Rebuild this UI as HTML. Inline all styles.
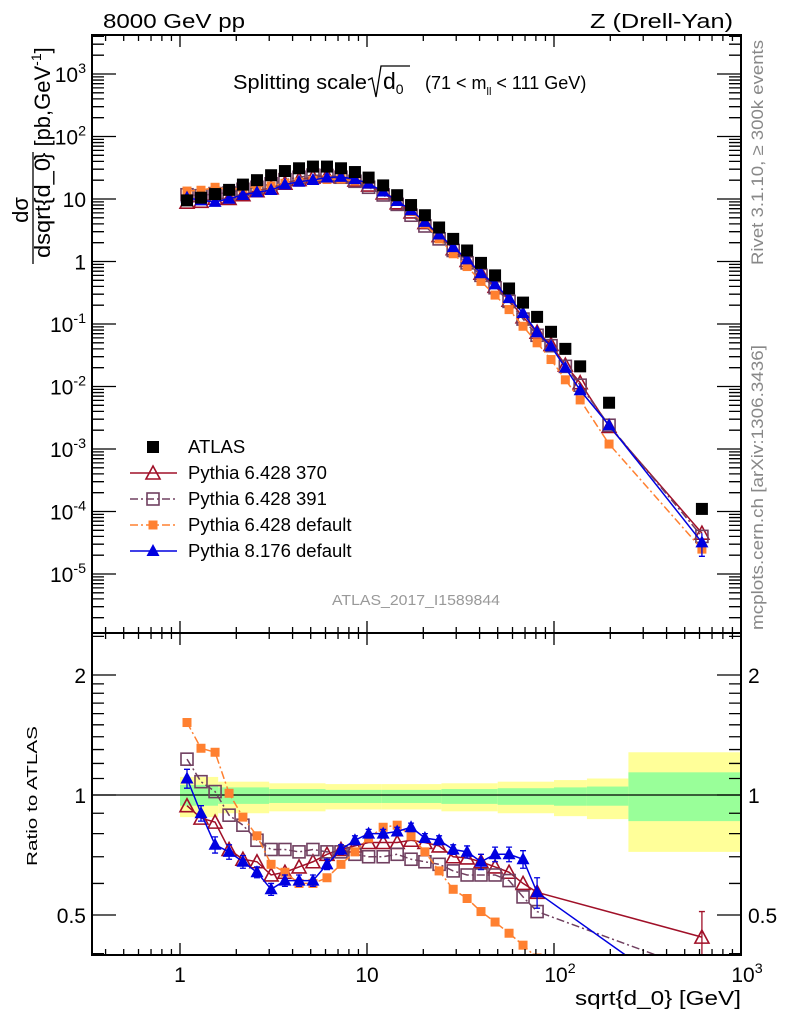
<!DOCTYPE html>
<html><head><meta charset="utf-8"><style>
html,body{margin:0;padding:0;background:#fff;width:786px;height:1024px;overflow:hidden;position:relative}
svg{display:block;position:absolute;left:0;top:0;font-family:"Liberation Sans",sans-serif}
</style></head><body>
<svg id="chart" width="786" height="1024" viewBox="0 0 786 1024" overflow="hidden" xmlns="http://www.w3.org/2000/svg">
<defs>
<clipPath id="cm"><rect x="92" y="35" width="649" height="598"/></clipPath>
<clipPath id="cr"><rect x="92" y="633" width="649" height="322"/></clipPath>
</defs>
<g id="bands" clip-path="url(#cr)"></g>
<g id="marks"></g>
<g id="axes"></g>
<text x="103" y="28" font-size="20" textLength="142" lengthAdjust="spacingAndGlyphs">8000 GeV pp</text>
<text x="590" y="28" font-size="20" textLength="143" lengthAdjust="spacingAndGlyphs">Z (Drell-Yan)</text>
<g>
<text x="233" y="89" font-size="20" textLength="134" lengthAdjust="spacingAndGlyphs">Splitting scale</text>
<path d="M368 80 L372 78 L376 97 L381 66 L410 66" fill="none" stroke="#000" stroke-width="1.3"/>
<text x="383" y="89" font-size="23">d<tspan font-size="14" dy="5">0</tspan></text>
<text x="425" y="89" font-size="18">(71 &lt; m<tspan font-size="11" dy="6">ll</tspan><tspan dy="-6"> &lt; 111 GeV)</tspan></text>
</g>
<g>
<text transform="translate(28,210) rotate(-90)" font-size="22" text-anchor="middle">dσ</text>
<line x1="33" y1="264" x2="33" y2="152" stroke="#000" stroke-width="1.3"/>
<text transform="translate(50,258) rotate(-90)" font-size="22" textLength="100" lengthAdjust="spacingAndGlyphs">dsqrt{d_0</text>
<text transform="translate(50,160) rotate(-90)" font-size="22">} [pb,GeV<tspan font-size="14" dy="-9">-1</tspan><tspan dy="9">]</tspan></text>
</g>
<text transform="translate(37,796) rotate(-90)" font-size="15" text-anchor="middle" textLength="140" lengthAdjust="spacingAndGlyphs">Ratio to ATLAS</text>
<text x="575" y="1005" font-size="20" textLength="166" lengthAdjust="spacingAndGlyphs">sqrt{d_0} [GeV]</text>
<text transform="translate(763,265) rotate(-90)" font-size="17" fill="#888" textLength="225" lengthAdjust="spacingAndGlyphs">Rivet 3.1.10, ≥ 300k events</text>
<text transform="translate(763,630) rotate(-90)" font-size="17" fill="#888" textLength="285" lengthAdjust="spacingAndGlyphs">mcplots.cern.ch [arXiv:1306.3436]</text>
<text x="332" y="605" font-size="15" fill="#999" textLength="168" lengthAdjust="spacingAndGlyphs">ATLAS_2017_I1589844</text>
<g id="legend"></g>
</svg>
<script>
// ---- data ----
const xVals = [1.09,1.295,1.54,1.83,2.17,2.58,3.07,3.64,4.33,5.14,6.11,7.26,8.62,10.2,12.2,14.5,17.2,20.4,24.3,28.9,34.3,40.7,48.4,57.5,68.3,81.2,96.4,115,138,197,618];
const atlas = [9.5,10.5,12,14,17,20,24,28,31,33,33,31,27,22,16.5,11.5,8,5.5,3.5,2.3,1.5,0.95,0.6,0.37,0.22,0.13,0.075,0.04,0.021,0.0055,0.00011];
const py370 = [8.9,9.2,10.3,10.2,11.7,13.6,15.1,17.9,20.5,22.4,23.4,22.6,20.1,16.7,12.5,8.7,6.2,4.2,2.6,1.6,1.04,0.65,0.40,0.24,0.13,0.074,0.047,0.022,0.0115,0.0023,0.000045];
const py391 = [11.7,11.3,12.2,12.5,14.3,15.4,17.5,20.4,22.3,24.1,23.8,22.3,19.2,15.4,11.6,8.2,5.5,3.7,2.3,1.5,0.95,0.6,0.38,0.23,0.12,0.066,0.045,0.021,0.0105,0.0024,0.00004];
const py6def = [13.4,13.8,15.4,14.1,15,15.8,16.1,17.9,18.6,19.8,20.5,20.8,19.4,17.2,13.7,9.7,6.3,4,2.3,1.33,0.83,0.48,0.29,0.17,0.092,0.05,0.027,0.0128,0.0061,0.0012,0.000025];
const py8def = [10.5,9.5,9,10.1,11.6,12.8,13.9,17.1,18.9,20.1,22.1,22.6,20.8,17.6,13.2,9.3,6.6,4.3,2.7,1.7,1.08,0.65,0.43,0.26,0.15,0.074,0.044,0.02,0.0087,0.0024,0.000032];
const rX = [1.09,1.295,1.54,1.83,2.17,2.58,3.07,3.64,4.33,5.14,6.11,7.26,8.62,10.2,12.2,14.5,17.2,20.4,24.3,28.9,34.3,40.7,48.4,57.5,68.3,81.2,618];
const r370 = [0.94,0.875,0.855,0.73,0.69,0.68,0.63,0.64,0.66,0.68,0.71,0.73,0.745,0.76,0.76,0.76,0.77,0.76,0.745,0.7,0.695,0.68,0.66,0.64,0.6,0.57,0.44];
const r391 = [1.23,1.08,1.02,0.89,0.84,0.77,0.73,0.73,0.72,0.73,0.72,0.72,0.71,0.7,0.7,0.71,0.69,0.68,0.67,0.645,0.63,0.63,0.63,0.61,0.555,0.51,0.36];
const r6def = [1.52,1.31,1.28,1.01,0.88,0.79,0.67,0.64,0.6,0.6,0.62,0.67,0.72,0.78,0.83,0.84,0.79,0.72,0.645,0.58,0.55,0.51,0.48,0.45,0.42,0.39,0.23];
const r8def = [1.10,0.9,0.75,0.72,0.68,0.64,0.58,0.61,0.61,0.61,0.67,0.73,0.77,0.8,0.8,0.81,0.83,0.78,0.77,0.73,0.72,0.68,0.71,0.71,0.69,0.57,0.29];
const r8err = [0.06,0.04,0.035,0.03,0.025,0.02,0.02,0.02,0.02,0.02,0.02,0.02,0.02,0.02,0.02,0.02,0.02,0.02,0.02,0.02,0.025,0.03,0.03,0.03,0.035,0.05,0.1];
const bandEdges = [1.0,1.6,3,6,12,25,50,100,150,250,1000];
const greenUp = [1.06,1.045,1.035,1.03,1.03,1.035,1.04,1.045,1.05,1.14];
const greenDn = [0.94,0.95,0.955,0.955,0.955,0.95,0.945,0.94,0.94,0.86];
const yellowUp = [1.11,1.08,1.07,1.065,1.065,1.07,1.08,1.09,1.10,1.28];
const yellowDn = [0.88,0.9,0.91,0.92,0.92,0.91,0.9,0.885,0.87,0.72];
const xTickLabels = ["1","10","10^2","10^3"];
const yTickLabels = ["10^3","10^2","10","1","10^-1","10^-2","10^-3","10^-4","10^-5"];
const rTickLabels = ["0.5","1","2"];

// ---- scales ----
const L=92,R=741,T=35,MB=633,RB=955;
const mx=v=>180+187*Math.log10(v);
const my=v=>199-62.5*(Math.log10(v)-1);
const ry=r=>795-398.6*Math.log10(r);
const NS="http://www.w3.org/2000/svg";
function mk(tag,attrs,parent){const e=document.createElementNS(NS,tag);for(const k in attrs)e.setAttribute(k,attrs[k]);parent.appendChild(e);return e;}
const marks=document.getElementById('marks'),axes=document.getElementById('axes'),bands=document.getElementById('bands');

// clip polyline points to y<=RB (geometric, keeps bbox inside page)
function clipBottom(pts){
  const out=[];
  for(let i=0;i<pts.length;i++){
    const p=pts[i];
    if(p[1]<=RB){out.push(p);continue;}
    const q=pts[i-1];
    if(q&&q[1]<=RB){const t=(RB-q[1])/(p[1]-q[1]);out.push([q[0]+t*(p[0]-q[0]),RB]);}
    break;
  }
  return out;
}

for(let i=0;i<bandEdges.length-1;i++){
  const x1=Math.max(mx(bandEdges[i]),L),x2=Math.min(mx(bandEdges[i+1]),R);
  const y=mk('rect',{x:x1,y:ry(yellowUp[i]),width:x2-x1,height:ry(yellowDn[i])-ry(yellowUp[i]),fill:'#ffff99'},bands);
  
  
  const g=mk('rect',{x:x1,y:ry(greenUp[i]),width:x2-x1,height:ry(greenDn[i])-ry(greenUp[i]),fill:'#99ff99'},bands);
  
  
}
const ref=mk('line',{x1:L,x2:R,y1:ry(1),y2:ry(1),stroke:'#000','stroke-width':1.3},bands);



function marker(type,color,x,y,parent){
  let e;
  if(type==='bsq'){e=mk('rect',{x:x-6,y:y-6,width:12,height:12,fill:'#000'},parent);}
  else if(type==='otri'){e=mk('path',{d:`M${x} ${y-7}L${x+7} ${y+6}L${x-7} ${y+6}Z`,fill:'none',stroke:color,'stroke-width':1.6},parent);}
  else if(type==='osq'){e=mk('rect',{x:x-6,y:y-6,width:12,height:12,fill:'none',stroke:color,'stroke-width':1.6},parent);}
  else if(type==='fsq'){e=mk('rect',{x:x-4.5,y:y-4.5,width:9,height:9,fill:color},parent);}
  else {e=mk('path',{d:`M${x} ${y-7}L${x+6.5} ${y+5}L${x-6.5} ${y+5}Z`,fill:color},parent);}
  return e;
}
const series=[
 {name:'pythia-6428-370',main:py370,ratio:r370,color:'#a01028',type:'otri',dash:''},
 {name:'pythia-6428-391',main:py391,ratio:r391,color:'#704060',type:'osq',dash:'8,3,2,3'},
 {name:'pythia-6428-default',main:py6def,ratio:r6def,color:'#ff8030',type:'fsq',dash:'8,3,2,3'},
 {name:'pythia-8176-default',main:py8def,ratio:r8def,color:'#0000e0',type:'ftri',dash:''}
];
const gm=mk('g',{'clip-path':'url(#cm)'},marks);
const gr=mk('g',{'clip-path':'url(#cr)'},marks);
series.forEach(s=>{
  const l=mk('polyline',{points:xVals.map((x,i)=>mx(x)+','+my(s.main[i])).join(' '),fill:'none',stroke:s.color,'stroke-width':1.5,'stroke-dasharray':s.dash},gm);
  
  
  xVals.forEach((x,i)=>{const m=marker(s.type,s.color,mx(x),my(s.main[i]),gm);
    
    });
  const rp=clipBottom(rX.map((x,i)=>[mx(x),ry(s.ratio[i])]));
  const rl=mk('polyline',{points:rp.map(p=>p[0]+','+p[1]).join(' '),fill:'none',stroke:s.color,'stroke-width':1.5,'stroke-dasharray':s.dash},gr);
  
  
  rX.forEach((x,i)=>{const py=ry(s.ratio[i]);if(py>RB+6)return;const m=marker(s.type,s.color,mx(x),py,gr);
    
    });
});
rX.forEach((x,i)=>{const px=mx(x);if(ry(r8def[i])>RB)return;
  const e=mk('path',{d:`M${px} ${ry(r8def[i]+r8err[i])}V${ry(r8def[i]-r8err[i])}M${px-3} ${ry(r8def[i]+r8err[i])}H${px+3}M${px-3} ${ry(r8def[i]-r8err[i])}H${px+3}`,stroke:'#0000e0','stroke-width':1.3},gr);
  
  });
{const px=mx(rX[26]);const e=mk('path',{d:`M${px} ${ry(0.51)}V${RB}M${px-3} ${ry(0.51)}H${px+3}`,stroke:'#a01028','stroke-width':1.3},gr);
 
 }
{const px=mx(xVals[30]);const v=py8def[30];const e=mk('path',{d:`M${px} ${my(v*1.4)}V${my(v*0.6)}M${px-3} ${my(v*0.6)}H${px+3}`,stroke:'#0000e0','stroke-width':1.3},gm);
 
 }
xVals.forEach((x,i)=>{const m=marker('bsq','#000',mx(x),my(atlas[i]),gm);
  
  });

[[T,MB],[MB,RB]].forEach(([t,b])=>{const f=mk('rect',{x:L,y:t,width:R-L,height:b-t,fill:'none',stroke:'#000','stroke-width':2},axes);
  
  });
let d='';
for(let e=-1;e<=3;e++)for(let k=1;k<10;k++){const v=k*Math.pow(10,e),px=mx(v);if(px<L||px>R)continue;const len=k===1?12:6;
  d+=`M${px} ${MB}v${-len}M${px} ${T}v${len}M${px} ${RB}v${-len}M${px} ${MB}v${len}`;}
for(let e=-6;e<=3;e++)for(let k=1;k<10;k++){const v=k*Math.pow(10,e),py=my(v);if(py<T||py>MB)continue;const len=k===1?24:12;
  d+=`M${L} ${py}h${len}M${R} ${py}h${-len}`;}
for(let k=4;k<=25;k++){const v=k/10;if(v===1||v===0.5||v===2)continue;if(v>2&&k%5)continue;const py=ry(v);if(py<MB||py>RB)continue;d+=`M${L} ${py}h12M${R} ${py}h-12`;}
[0.5,1,2].forEach(v=>{const py=ry(v);d+=`M${L} ${py}h24M${R} ${py}h-24`;});
const tk=mk('path',{d:d,stroke:'#000','stroke-width':1.3,fill:'none'},axes);



function powLabel(lbl,x,y,anchor,size,name){
  const t=mk('text',{x:x,y:y,'font-size':size,'text-anchor':anchor},axes);
  
  
  const p=lbl.split('^');t.textContent=p[0];
  if(p[1]){const s=document.createElementNS(NS,'tspan');s.setAttribute('dy',-9);s.setAttribute('font-size',size*0.68);s.textContent=p[1];t.appendChild(s);}
}
yTickLabels.forEach((l,i)=>powLabel(l,86,my(Math.pow(10,3-i))+8,'end',21,'y-tick-label'));
xTickLabels.forEach((l,i)=>powLabel(l,mx(Math.pow(10,i))+(l.includes('^')?6:0),982,'middle',21,'x-tick-label'));
rTickLabels.forEach(l=>{const v=parseFloat(l);powLabel(l,86,ry(v)+8,'end',21,'ratio-tick-label-left');powLabel(l,748,ry(v)+8,'start',21,'ratio-tick-label-right');});

const lg=document.getElementById('legend');
const lrows=[['ATLAS','bsq','#000',''],['Pythia 6.428 370','otri','#a01028',''],['Pythia 6.428 391','osq','#704060','8,3,2,3'],['Pythia 6.428 default','fsq','#ff8030','8,3,2,3'],['Pythia 8.176 default','ftri','#0000e0','']];
const lys=[447,473,499,525,551];
lrows.forEach((r,i)=>{const g=mk('g',{},lg);
  
  
  if(i>0)mk('line',{x1:130,x2:177,y1:lys[i],y2:lys[i],stroke:r[2],'stroke-width':1.5,'stroke-dasharray':r[3]},g);
  marker(r[1],r[2],153,lys[i],g);
  const t=mk('text',{x:188,y:lys[i]+6,'font-size':18.5},g);t.textContent=r[0];});
</script>
</body></html>
